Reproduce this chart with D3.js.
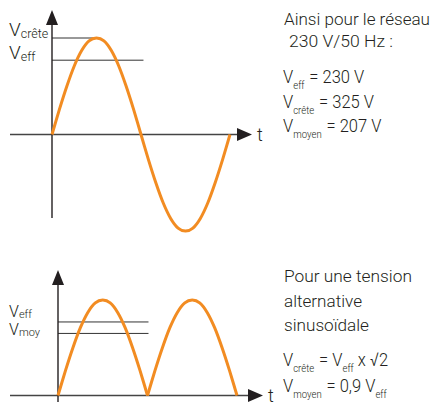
<!DOCTYPE html>
<html>
<head>
<meta charset="utf-8">
<script src="https://cdn.jsdelivr.net/npm/d3@7"></script>
<style>
  body { margin: 0; background: #fff; }
  svg { display: block; }
  text { font-family: Roboto, "Liberation Sans", sans-serif; font-weight: 300; fill: #231f20; }
</style>
</head>
<body>
<div id="wrapper"></div>
<script>
// angle (degrees) and normalised tension values
const angles = [0, 15, 30, 45, 60, 75, 90, 105, 120, 135, 150, 165, 180,
                195, 210, 225, 240, 255, 270, 285, 300, 315, 330, 345, 360];
const sineValues = [0, 0.26, 0.5, 0.71, 0.87, 0.97, 1, 0.97, 0.87, 0.71, 0.5, 0.26, 0,
                    -0.26, -0.5, -0.71, -0.87, -0.97, -1, -0.97, -0.87, -0.71, -0.5, -0.26, 0];
const rectifiedValues = [0, 0.26, 0.5, 0.71, 0.87, 0.97, 1, 0.97, 0.87, 0.71, 0.5, 0.26, 0,
                         0.26, 0.5, 0.71, 0.87, 0.97, 1, 0.97, 0.87, 0.71, 0.5, 0.26, 0];

// horizontal reference levels (fraction of peak) and their labels
const topLevels = [{name: "crête", value: 1, end: 90}, {name: "eff", value: 0.77, end: 185}];
const bottomLevels = [{name: "eff", value: 0.77, end: 182}, {name: "moy", value: 0.65, end: 182}];

const topNote = ["Ainsi pour le réseau", "230 V/50 Hz :"];
const topFormulas = [
    {sub: "eff", rest: "= 230 V"},
    {sub: "crête", rest: "= 325 V"},
    {sub: "moyen", rest: "= 207 V"}
];
const bottomNote = ["Pour une tension", "alternative", "sinusoïdale"];

const orange = "#f28c22";
const ink = "#231f20";

const svg = d3.select("#wrapper").append("svg")
    .attr("width", 432)
    .attr("height", 406);

function drawPanel(cfg) {
    const x = d3.scaleLinear().domain([0, 360]).range([cfg.x0, cfg.x1]);
    const y = d3.scaleLinear().domain([-1, 1]).range([cfg.yBottom, cfg.yTop]);
    const g = svg.append("g");

    // reference levels
    cfg.levels.forEach(l => {
        g.append("line")
            .attr("x1", x(0)).attr("x2", x(l.end))
            .attr("y1", y(l.value)).attr("y2", y(l.value))
            .attr("stroke", "#333").attr("stroke-width", 1);
    });

    // axes
    g.append("line")
        .attr("x1", 10).attr("x2", cfg.arrowX - 12)
        .attr("y1", y(0)).attr("y2", y(0))
        .attr("stroke", "#444").attr("stroke-width", 1.6);
    g.append("path")
        .attr("d", `M${cfg.arrowX},${y(0)} L${cfg.arrowX - 15},${y(0) - 6.5} L${cfg.arrowX - 15},${y(0) + 6.5} Z`)
        .attr("fill", ink);
    g.append("line")
        .attr("x1", x(0)).attr("x2", x(0))
        .attr("y1", cfg.axisBottom).attr("y2", cfg.arrowY + 12)
        .attr("stroke", ink).attr("stroke-width", 1.4);
    g.append("path")
        .attr("d", `M${x(0)},${cfg.arrowY} L${x(0) - 6},${cfg.arrowY + 15} L${x(0) + 6},${cfg.arrowY + 15} Z`)
        .attr("fill", ink);

    g.append("text")
        .attr("x", cfg.arrowX + 5).attr("y", y(0) + 6)
        .style("font-size", "18px")
        .text("t");

    // curve
    const line = d3.line()
        .y(d => y(d))
        .curve(cfg.curve);
    cfg.segments.forEach(seg => {
        g.append("path")
            .attr("d", line.x((d, i) => x(angles[seg[0] + i]))(cfg.values.slice(seg[0], seg[1] + 1)))
            .attr("fill", "none")
            .attr("stroke", orange)
            .attr("stroke-width", 3);
    });

    // level labels
    cfg.labels.forEach((l, i) => {
        const t = g.append("text")
            .attr("x", 9).attr("y", cfg.labelY[i])
            .style("font-size", cfg.labelSize + "px");
        t.append("tspan").text("V");
        t.append("tspan").attr("dy", cfg.subDy).style("font-size", cfg.subSize + "px").text(l.name);
    });
}

drawPanel({
    x0: 52, x1: 230, yTop: 38, yBottom: 231,
    arrowX: 252, arrowY: 10, axisBottom: 218,
    levels: topLevels, labels: topLevels, labelY: [36, 59], labelSize: 19, subSize: 12.5, subDy: 2,
    values: sineValues, segments: [[0, 24]], curve: d3.curveCardinal.tension(0.2)
});

drawPanel({
    x0: 58, x1: 237, yTop: 300, yBottom: 491,
    arrowX: 263, arrowY: 270, axisBottom: 402,
    levels: bottomLevels, labels: bottomLevels, labelY: [317, 335], labelSize: 16, subSize: 11, subDy: 1,
    values: rectifiedValues, segments: [[0, 12], [12, 24]], curve: d3.curveCardinal.tension(0.2)
});

// right-hand notes, condensed
function note(lines, xs, baselines, width) {
    const g = svg.append("g");
    lines.forEach((s, i) => {
        g.append("text")
            .attr("x", xs[i]).attr("y", baselines[i])
            .attr("textLength", width[i])
            .attr("lengthAdjust", "spacingAndGlyphs")
            .style("font-size", "17px")
            .text(s);
    });
}
note(topNote, [284, 289], [25, 47], [146, 104]);
note(bottomNote, [284, 284, 284], [282, 307, 331], [128, 78, 85]);

function formula(x0, yBase, parts, sx) {
    const g = svg.append("g")
        .attr("transform", `translate(${x0},${yBase}) scale(${sx},1)`);
    const t = g.append("text").style("font-size", "19px");
    parts.forEach(p => {
        const s = t.append("tspan").text(p.text);
        if (p.sub) s.style("font-size", "11px").attr("dy", p.dy);
        else if (p.dy) s.attr("dy", p.dy);
        if (p.dx) s.attr("dx", p.dx);
    });
}

const topY = [83, 108, 132];
topFormulas.forEach((f, i) => {
    formula(283, topY[i], [
        {text: "V"},
        {text: f.sub, sub: true, dy: 6},
        {text: " " + f.rest, dy: -6, dx: 1}
    ], 0.87);
});

formula(283, 366, [
    {text: "V"},
    {text: "crête", sub: true, dy: 6},
    {text: " = V", dy: -6, dx: 1},
    {text: "eff", sub: true, dy: 6},
    {text: " x √2", dy: -6}
], 0.87);
formula(283, 392, [
    {text: "V"},
    {text: "moyen", sub: true, dy: 6},
    {text: " = 0,9 V", dy: -6, dx: 1},
    {text: "eff", sub: true, dy: 6}
], 0.87);
</script>
</body>
</html>
